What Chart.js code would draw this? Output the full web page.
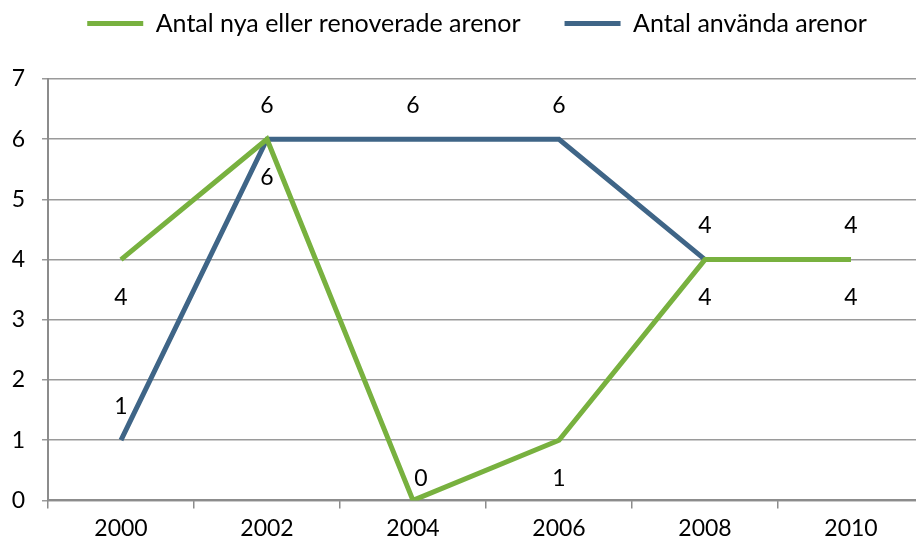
<!DOCTYPE html>
<html lang="sv">
<head>
  <meta charset="UTF-8" />
  <title>Arenor</title>
  <script src="https://cdn.jsdelivr.net/npm/chart.js"></script>
  <style>
    body {
      margin: 0;
      background: #ffffff;
      overflow: hidden;
    }

    .chart-container {
      width: 924px;
      height: 541px;
    }
  </style>
</head>
<body>

  <div class="chart-container">
    <canvas id="arenaChart"></canvas>
  </div>

  <script>
    const years = ['2000', '2002', '2004', '2006', '2008', '2010'];
    const nyaArenor = [4, 6, 0, 1, 4, 4];
    const anvandaArenor = [1, 6, 6, 6, 4, 4];
    const yTicks = [0, 1, 2, 3, 4, 5, 6, 7];

    const green = '#78b13f';
    const blue = '#3f6587';
    const fontFamily = 'Lato, "Open Sans", sans-serif';

    // write the value next to each point: blue above, green below
    const valueLabels = {
      id: 'valueLabels',
      afterDatasetsDraw(chart) {
        const ctx = chart.ctx;
        const yScale = chart.scales.y;
        ctx.save();
        ctx.font = '23px ' + fontFamily;
        ctx.fillStyle = '#000';
        ctx.textAlign = 'center';
        ctx.textBaseline = 'middle';
        chart.data.datasets.forEach((ds, i) => {
          const meta = chart.getDatasetMeta(i);
          meta.data.forEach((pt, j) => {
            const v = ds.data[j];
            let dx = 0, dy;
            if (i === 1) {
              dy = -34;
            } else if (v === yScale.min) {
              dy = -22; dx = 8;
            } else {
              dy = 38;
            }
            ctx.fillText(String(v), pt.x + dx, pt.y + dy);
          });
        });
        ctx.restore();
      }
    };

    // push the plot down below the legend, nudge the legend a bit right
    const legendGap = {
      id: 'legendGap',
      beforeInit(chart) {
        const fit = chart.legend.fit;
        chart.legend.fit = function () {
          fit.bind(this)();
          this.height += 33;
        };
      },
      afterLayout(chart) {
        chart.legend.left += 15;
        chart.legend.right += 15;
      }
    };

    const ctx = document.getElementById('arenaChart').getContext('2d');

    new Chart(ctx, {
      type: 'line',
      data: {
        labels: years,
        datasets: [
          {
            label: 'Antal nya eller renoverade arenor',
            data: nyaArenor,
            borderColor: green,
            backgroundColor: green,
            borderWidth: 5,
            pointRadius: 0,
            tension: 0
          },
          {
            label: 'Antal använda arenor',
            data: anvandaArenor,
            borderColor: blue,
            backgroundColor: blue,
            borderWidth: 5,
            pointRadius: 0,
            tension: 0
          }
        ]
      },
      options: {
        responsive: true,
        maintainAspectRatio: false,
        animation: false,
        layout: {
          padding: { top: -33, left: 0, right: 0, bottom: -7 }
        },
        plugins: {
          tooltip: { enabled: false },
          legend: {
            position: 'top',
            labels: {
              color: '#000',
              font: { size: 25, family: fontFamily },
              boxWidth: 56,
              boxHeight: 5,
              padding: 44,
              generateLabels(chart) {
                return chart.data.datasets.map((ds, i) => ({
                  text: ds.label,
                  fillStyle: ds.borderColor,
                  strokeStyle: ds.borderColor,
                  lineWidth: 0,
                  datasetIndex: i
                }));
              }
            }
          }
        },
        scales: {
          x: {
            offset: true,
            grid: {
              offset: true,
              drawOnChartArea: false,
              drawTicks: true,
              tickLength: 8,
              color: '#8c8c8c',
              lineWidth: 1.5
            },
            border: { color: '#8c8c8c', width: 2 },
            ticks: {
              color: '#000',
              font: { size: 23, family: fontFamily },
              padding: 6
            }
          },
          y: {
            min: 0,
            max: 7,
            afterBuildTicks(scale) {
              scale.ticks = yTicks.map(v => ({ value: v }));
            },
            afterFit(scale) {
              scale.width = 48;
            },
            grid: {
              color: '#9a9a9a',
              lineWidth: 1.5,
              tickLength: 6
            },
            border: { color: '#8c8c8c', width: 2 },
            ticks: {
              color: '#000',
              font: { size: 23, family: fontFamily },
              padding: 17
            }
          }
        }
      },
      plugins: [valueLabels, legendGap]
    });
  </script>
</body>
</html>
